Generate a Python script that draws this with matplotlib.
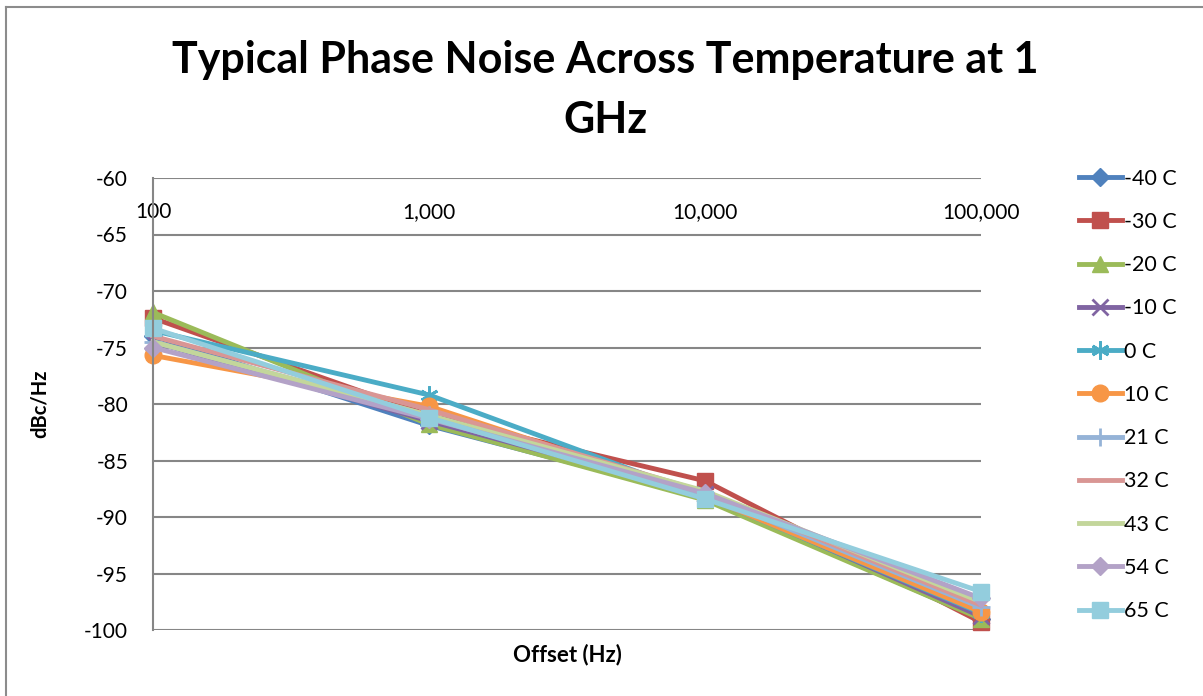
import numpy as np
import matplotlib.pyplot as plt
from matplotlib.lines import Line2D

plt.rcParams['font.family'] = ['Lato', 'DejaVu Sans']
plt.rcParams['axes.unicode_minus'] = False

# offsets (Hz)
offsets = [100, 1000, 10000, 100000]

# phase noise (dBc/Hz) per temperature
labels = ['-40 C', '-30 C', '-20 C', '-10 C', '0 C', '10 C',
          '21 C', '32 C', '43 C', '54 C', '65 C']
noise_m40 = [-74.0, -81.9, -88.3, -99.0]
noise_m30 = [-72.4, -81.0, -86.8, -99.3]
noise_m20 = [-71.9, -81.8, -88.5, -99.0]
noise_m10 = [-74.5, -81.5, -88.0, -98.8]
noise_0 = [-73.5, -79.2, -88.2, -98.5]
noise_10 = [-75.7, -80.2, -88.2, -98.4]
noise_21 = [-74.5, -81.0, -88.0, -98.0]
noise_32 = [-74.0, -80.5, -87.8, -97.8]
noise_43 = [-74.5, -81.0, -87.7, -97.5]
noise_54 = [-75.0, -81.3, -87.9, -97.2]
noise_65 = [-73.3, -81.2, -88.4, -96.6]

series = [noise_m40, noise_m30, noise_m20, noise_m10, noise_0, noise_10,
          noise_21, noise_32, noise_43, noise_54, noise_65]

# excel 2007 style colours and markers
colors = ['#4F81BD', '#C0504D', '#9BBB59', '#8064A2', '#4BACC6', '#F79646',
          '#95B3D7', '#D99694', '#C3D69B', '#B3A2C7', '#93CDDD']
markers = ['D', 's', '^', 'x', (6, 2, 0), 'o', '+', None, None, 'D', 's']
msizes = [9, 11, 11, 11, 13, 12, 13, 0, 0, 9, 12]

W, H = 1203, 696
fig = plt.figure(figsize=(W / 100, H / 100), dpi=100)

# chart border (left & top visible)
fig.add_artist(Line2D([6 / W, 6 / W], [0, 1 - 7 / H], color='#8C8C8C', lw=1.5,
                      transform=fig.transFigure))
fig.add_artist(Line2D([6 / W, 1], [1 - 7 / H, 1 - 7 / H], color='#8C8C8C', lw=1.5,
                      transform=fig.transFigure))

left, right = 153 / W, 981 / W
top, bottom = 1 - 178 / H, 1 - 630 / H
ax = fig.add_axes([left, bottom, right - left, top - bottom])

for vals, lab, c, m, ms in zip(series, labels, colors, markers, msizes):
    if m is None:
        ax.plot(offsets, vals, color=c, lw=3.5, label=lab, clip_on=False)
    else:
        mew = 2 if m in ('x', '+') or isinstance(m, tuple) else 1
        ax.plot(offsets, vals, color=c, lw=3.5, marker=m, markersize=ms,
                markeredgewidth=mew, markeredgecolor=c, markerfacecolor=c,
                label=lab, clip_on=False)

ax.set_xscale('log')
ax.set_xlim(100, 100000)
ax.set_ylim(-100, -60)
ax.set_yticks(np.arange(-100, -59, 5))
ax.set_xticks(offsets)
ax.set_xticklabels(['100', '1,000', '10,000', '100,000'])
ax.minorticks_off()

ax.grid(axis='y', color='#868686', lw=1.5)
ax.set_axisbelow(True)
for s in ['top', 'right', 'bottom']:
    ax.spines[s].set_visible(False)
ax.spines['left'].set_color('#868686')
ax.spines['left'].set_linewidth(1.5)

ax.tick_params(axis='y', length=0, pad=18, labelsize=15)
ax.tick_params(axis='x', length=0, top=True, labeltop=True, bottom=False,
               labelbottom=False, labelsize=15, pad=-32)

ax.set_ylabel('dBc/Hz', fontsize=14.5, fontweight='bold', labelpad=25)
fig.text((left + right) / 2, 1 - 655 / H, 'Offset (Hz)', fontsize=16,
         fontweight='bold', ha='center', va='center')

fig.text(605 / W, 1 - 60 / H, 'Typical Phase Noise Across Temperature at 1',
         fontsize=31, fontweight='bold', ha='center', va='center')
fig.text(605 / W, 1 - 120 / H, 'GHz', fontsize=31, fontweight='bold',
         ha='center', va='center')

leg = fig.legend(loc='upper left', bbox_to_anchor=(1070 / W, 1 - 160 / H),
                 frameon=False, fontsize=15.5, handlelength=2.0,
                 handletextpad=0.1, labelspacing=1.08, borderaxespad=0)

fig.savefig('out.png', dpi=100)
